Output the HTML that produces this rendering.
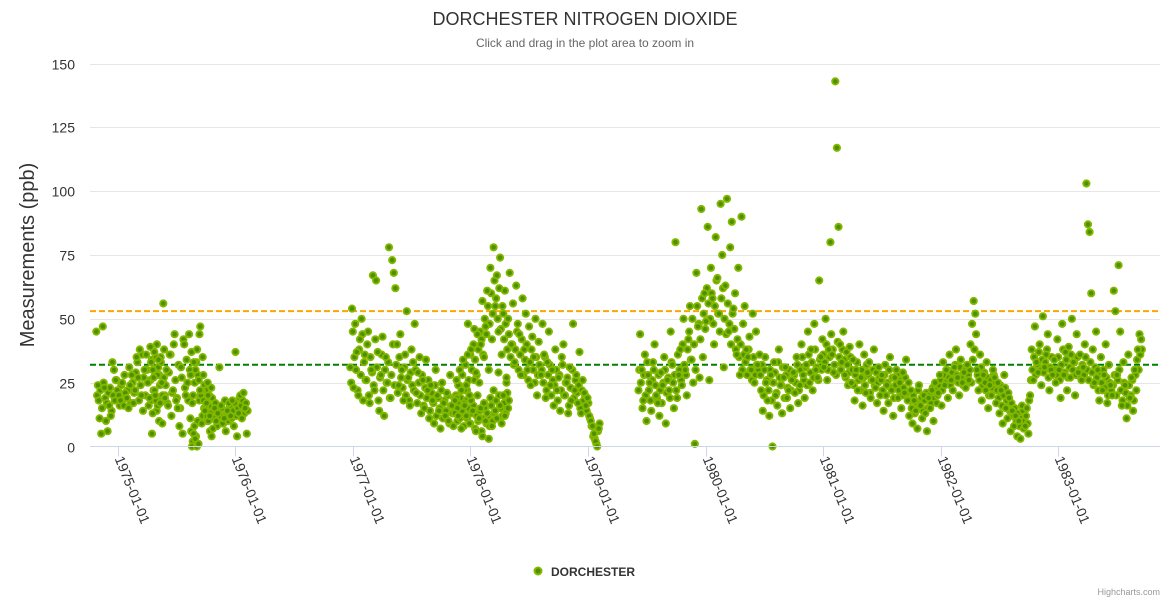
<!DOCTYPE html>
<html><head><meta charset="utf-8"><style>
body{margin:0;background:#fff;font-family:"Liberation Sans",sans-serif}
svg{display:block}
</style></head><body>
<svg id="chart" width="1170" height="600">
<rect x="0" y="0" width="1170" height="600" fill="#fff"/>
<text x="585" y="25" text-anchor="middle" font-size="18" fill="#333">DORCHESTER NITROGEN DIOXIDE</text>
<text x="585" y="47" text-anchor="middle" font-size="12" fill="#666">Click and drag in the plot area to zoom in</text>
<text transform="translate(34,255) rotate(-90)" text-anchor="middle" font-size="20" fill="#333">Measurements (ppb)</text>
<g id="grid"></g><g id="refs"></g><g id="pts"></g><g id="xaxis"></g>
<g>
<circle cx="538" cy="571" r="3.5" fill="#4e9100" stroke="#84b800" stroke-width="2"/>
<text x="551" y="576" font-size="12" font-weight="bold" fill="#333">DORCHESTER</text></g>
<text x="1160" y="595" text-anchor="end" font-size="9" fill="#999">Highcharts.com</text>
</svg>
<script>
const yTicks=[0,25,50,75,100,125,150];
const xTickYears=[1975,1976,1977,1978,1979,1980,1981,1982,1983];
const refLines=[53,32];
const segStarts=[1974.82,1975.28,1975.62,1976.98,1977.87,1978.6,1979.43,1980.46];
const stepDays=5;
const seg0=[45,24,11,5,47,23,10,6,16,12,33,30,26,22,20,18,25,16,21,19,15,24,28,17,22,35,27,38,20,14,30,36,25,19,33,13,37,18,28,10,35,9,27];
const seg1=[39,5,27,20,40,34,17,25,56,19,30,16,36,12,22,44,18,15,8,31,5,40,20,25,44,28,17,33,30,38,26,47,22,18,15,12,10,6,4];
const seg2=[11,0,5,3,0,1,22,9,28,14,17,20,12,23,7,15,10,13,31,16,9,11,6,14,17,12,18,8,37,4,13,20,11,21,15,5];
const seg3=[31,54,23,48,37,20,42,50,18,36,26,45,17,30,67,22,65,37,14,28,43,12,35,25,78,19,73,68,62,40,24,44,30,18,36,53,27,16,38,33,48,21,29,35,13,26,15,34,22,11,24,18,9,30,20,14,7,25,17,12,21,10,28,16,8,13,19,24,11,7,16,22,12,36,9,18,14,26,6,20,11,15,4,17,10,13,3,19,8,22,14,11,29,16,9,20,12,25,15];
const seg4=[18,26,12,30,22,34,16,24,48,20,38,14,46,29,44,25,40,57,35,47,61,30,70,42,78,55,67,45,74,36,52,61,27,50,68,40,56,33,63,48,44,28,58,38,52,30,47,24,43,35,50,20,41];
const seg5=[28,48,36,19,33,45,24,30,16,38,22,27,14,35,40,20,25,13,31,18,48,22,28,17,37,13,26,21,16,19,12,10,8,5,2,0,7];
const seg6=[22,44,30,18,36,10,28,25,14,33,40,20,17,12,29,24,35,9,26,22,45,32,15,80,19,28,38,24,50,30,20,42,55,34,25,1,68,47,27,93,35,60,49,86,26,70,58,40,82,66,52,95,75,31,63,97,45,78,88,54,60,36,70,28,90,48,55,38,35,43,30,52,25,45,32];
const seg7=[36,22,14,30,25,18,12,28,0,33,20,16,38,24,13,27,31,19,22,15,26,
29,21,35,17,24,40,28,19,32,45,25,38,22,48,30,27,65,35,
42,31,50,26,38,80,36,29,143,117,86,40,33,45,28,37,24,39,
25,34,18,30,22,40,27,16,36,21,29,33,19,26,38,23,17,31,
20,28,14,32,24,17,35,22,12,27,30,19,25,15,29,21,34,18,
12,22,9,18,14,7,24,16,11,20,13,6,19,15,22,10,25,17,
21,28,16,33,24,30,19,36,26,22,31,38,27,20,34,25,29,23,
32,26,40,48,57,52,30,22,36,18,28,25,33,15,24,20,30,27,
17,25,13,22,9,28,15,11,19,6,14,8,12,4,10,3,16,7,
8,15,5,20,38,26,47,33,29,40,24,51,31,36,44,22,30,28,
34,25,42,30,19,48,28,37,22,39,27,50,33,20,44,29,36,26,
31,40,103,87,84,60,38,25,45,30,18,35,22,28,40,17,32,24,
20,61,53,28,71,45,16,33,24,11,36,19,27,14,30,22,38,44,42];
const seg0b=[20,18,22,15,25,19,17,21,23,14,20,18,26,22,16,24,20,28,19,22,31,17,25,21,29,33,18,24,36,27,20,30,16,26,34,22,28,14,31,24,19,25,20];
const seg1b=[18,30,22,35,16,28,33,20,38,24,17,29,36,21,40,26,19,32,15,27,42,23,34,18,30,37,20,25,33,28,44,21,35,24,18,25,20,14,11];
const seg2b=[6,2,8,4,10,18,20,12,15,22,10,16,13,19,11,17,8,14,12,15,9,18,13,10,16,11,14,17,12,15,19,16,18,13,17,14];
const seg3b=[25,45,35,30,22,38,28,44,33,26,40,20,35,29,24,42,31,18,27,36,22,30,25,33,19,28,40,24,32,21,35,27,23,31,20,26,18,29,24,22,30,17,25,20,28,16,23,19,26,14,21,17,24,12,19,15,22,11,18,14,20,9,16,13,19,15,10,17,12,14,8,18,11,15,9,13,16,7,12,10,14,6,11,15,9,12,8,16,10,13,18,11,20,15,12,17,13,21,18];
const seg4b=[20,15,24,19,28,17,32,22,26,36,30,40,34,28,38,45,42,36,50,44,55,48,60,52,65,58,50,62,46,55,42,48,38,44,35,40,32,38,45,30,36,42,28,34,40,26,33,38,30,25,35,28,32];
const seg5b=[30,25,35,22,28,32,20,26,24,30,18,28,22,32,20,25,27,16,23,30,19,26,21,24,15,22,18,20,14,17,11,8,4,3,1,6,9];
const seg6b=[30,25,15,28,20,33,22,18,26,30,24,19,28,22,17,25,30,21,27,19,33,25,28,22,36,30,26,40,32,28,38,45,34,50,40,30,55,48,42,58,52,46,62,56,50,60,48,55,65,52,45,58,62,50,44,56,48,40,52,46,38,42,35,40,30,36,33,28,38,30,26,35,28,32,30];
const seg7b=[28,32,20,35,26,22,30,18,25,29,21,33,27,24,31,19,28,23,30,22,26,
28,25,32,22,30,35,26,31,24,36,29,33,27,38,31,26,34,30,
36,33,40,30,35,44,38,32,28,41,35,30,38,34,27,32,29,35,
30,24,28,33,26,22,30,27,24,32,28,21,26,30,24,29,25,27,
26,22,28,20,25,30,23,27,19,24,28,22,26,20,23,27,21,25,
18,15,20,13,17,22,16,19,14,18,21,15,20,17,23,19,22,20,
24,26,22,28,25,30,27,24,29,26,32,28,25,31,27,24,30,26,
28,30,25,34,38,44,28,26,31,24,29,22,27,20,26,23,28,25,
22,19,24,16,20,23,18,21,14,17,12,15,10,13,8,11,14,10,
12,9,18,26,30,35,28,32,37,30,34,29,33,38,27,31,35,30,
30,28,35,26,32,38,29,34,27,31,36,30,33,28,35,30,27,32,
28,35,30,26,33,29,24,31,27,22,29,25,30,23,27,20,25,22,
24,28,20,26,30,22,18,25,21,16,24,20,26,18,28,34,30,36,38];
const segValues=[seg0,seg1,seg2,seg3,seg4,seg5,seg6,seg7];
const segValuesB=[seg0b,seg1b,seg2b,seg3b,seg4b,seg5b,seg6b,seg7b];

const NS="http://www.w3.org/2000/svg";
const L=90,R=1160,Y0=446.5,Y150=63.5;
function yScale(v){return Y0-(v/150)*(Y0-Y150);}
function xScale(yr){return 117.5+(yr-1975)*117.6;}
function mk(tag,attrs,parent){const e=document.createElementNS(NS,tag);for(const k in attrs)e.setAttribute(k,attrs[k]);parent.appendChild(e);return e;}
const grid=document.getElementById('grid');
yTicks.forEach(t=>{
  const y=Math.round(yScale(t))+0.5;
  if(t>0){const ln=mk('line',{x1:L,x2:R,y1:y,y2:y,stroke:'#e6e6e6','stroke-width':1},grid);
  
  }
  const tx=mk('text',{x:75,y:y+5,'text-anchor':'end','font-size':14,fill:'#333'},grid);
  tx.textContent=t;
  
  
});
const refs=document.getElementById('refs');
const refColors=['#ffa500','#008000'];
refLines.forEach((v,i)=>{
  const y=yScale(v);
  const ln=mk('line',{x1:L,x2:R,y1:y,y2:y,stroke:refColors[i],'stroke-width':2,'stroke-dasharray':'6,3'},refs);
  
  
});
const pts=document.getElementById('pts');
function drawSet(sets,offsetDays){
  sets.forEach((vals,s)=>{
    vals.forEach((v,i)=>{
      const yr=segStarts[s]+(i*stepDays+offsetDays)/365.25;
      const c=mk('circle',{cx:xScale(yr).toFixed(1),cy:yScale(v).toFixed(1),r:3.2,fill:'#4e9100',stroke:'#84b800','stroke-width':1.8},pts);
      
      
    });
  });
}
drawSet(segValuesB,2.5);
drawSet(segValues,0);
const xa=document.getElementById('xaxis');
const axl=mk('line',{x1:L,x2:R,y1:Y0,y2:Y0,stroke:'#ccd6eb','stroke-width':1},xa);


xTickYears.forEach(yr=>{
  const x=Math.round(xScale(yr))+0.5;
  const tk=mk('line',{x1:x,x2:x,y1:Y0,y2:Y0+10,stroke:'#ccd6eb','stroke-width':1},xa);
  
  
  const tx=mk('text',{transform:`translate(${x-4},${Y0+12}) rotate(68)`,'font-size':14,fill:'#333'},xa);
  tx.textContent=yr+'-01-01';
  
  
});
</script>
</body></html>
